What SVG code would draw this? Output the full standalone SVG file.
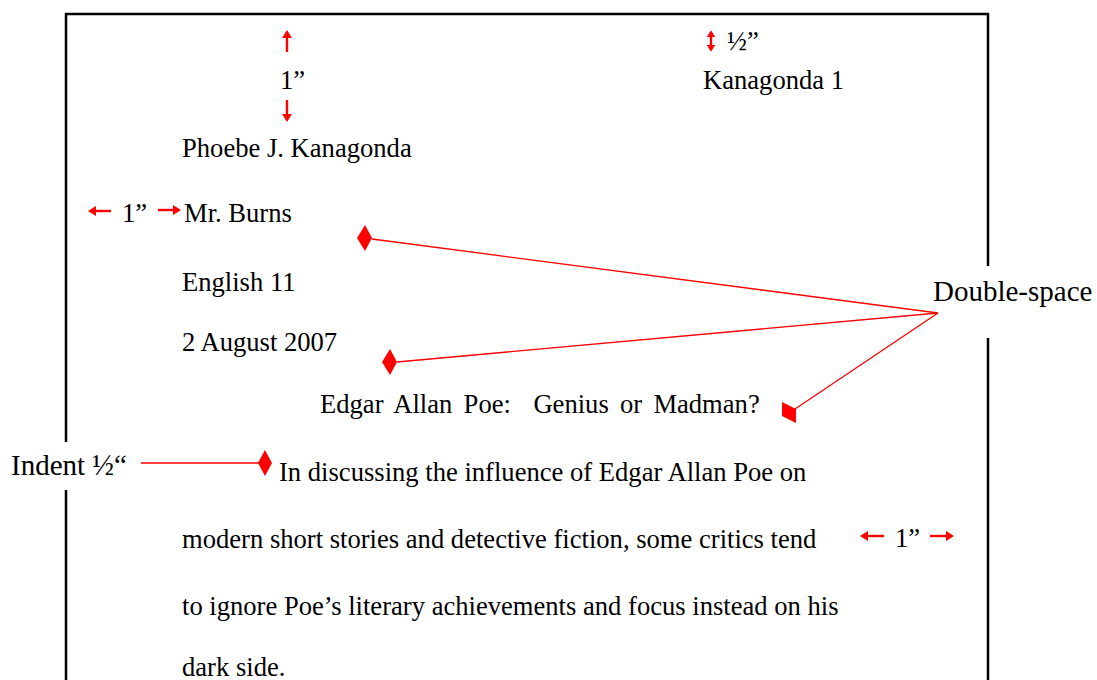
<svg xmlns="http://www.w3.org/2000/svg" width="1097" height="680" viewBox="0 0 1097 680">
<defs>
<style>
.t{font-family:"Liberation Serif","Times New Roman",serif;font-size:26.6px;fill:#000}
.lab{font-family:"Liberation Serif","Times New Roman",serif;font-size:29px;fill:#000}
.border{stroke:#000;stroke-width:2.5;fill:none}
.conn{stroke:#f00;stroke-width:1.3;fill:none}
.arr{stroke:#f00;stroke-width:2.4;fill:none}
.dia{fill:#f00;stroke:none}
</style>
<marker id="ah" viewBox="0 0 8 10" refX="6" refY="5" markerWidth="3.4" markerHeight="4.4" orient="auto-start-reverse" markerUnits="strokeWidth">
<path d="M0,0 L8,5 L0,10 Z" fill="#f00"/>
</marker>
<marker id="ah2" viewBox="0 0 8 10" refX="6" refY="5" markerWidth="3" markerHeight="3.6" orient="auto-start-reverse" markerUnits="strokeWidth">
<path d="M0,0 L8,5 L0,10 Z" fill="#f00"/>
</marker>
</defs>
<rect width="1097" height="680" fill="#fff"/>
<g id="page-border">
<path class="border" d="M66,680 V490 M66,442 V14 H988 V266 M988,338 V680"/>
</g>
<g id="margin-arrows">
<line class="arr" x1="287" y1="52" x2="287" y2="32" marker-end="url(#ah)"/>
<line class="arr" x1="287" y1="100" x2="287" y2="120" marker-end="url(#ah)"/>
<line class="arr" x1="711" y1="32" x2="711" y2="50" marker-start="url(#ah2)" marker-end="url(#ah2)"/>
<line class="arr" x1="111" y1="211" x2="90" y2="211" marker-end="url(#ah)"/>
<line class="arr" x1="158" y1="210" x2="179" y2="210" marker-end="url(#ah)"/>
<line class="arr" x1="884" y1="536" x2="862" y2="536" marker-end="url(#ah)"/>
<line class="arr" x1="930" y1="536" x2="952" y2="536" marker-end="url(#ah)"/>
</g>
<g id="margin-labels">
<text class="t" x="280" y="89">1”</text>
<text class="t" x="727" y="50">½”</text>
<text class="t" x="122" y="222">1”</text>
<text class="t" x="895" y="547">1”</text>
</g>
<g id="header">
<text class="t" x="703" y="89">Kanagonda 1</text>
<text class="t" x="182" y="157">Phoebe J. Kanagonda</text>
<text class="t" x="184" y="222">Mr. Burns</text>
<text class="t" x="182" y="291">English 11</text>
<text class="t" x="182" y="351">2 August 2007</text>
</g>
<g id="title">
<text class="t" x="320" y="413" word-spacing="4.6">Edgar Allan Poe:&#160; Genius or Madman?</text>
</g>
<g id="body">
<text class="t" x="279" y="481">In discussing the influence of Edgar Allan Poe on</text>
<text class="t" x="182" y="548">modern short stories and detective fiction, some critics tend</text>
<text class="t" x="182" y="615">to ignore Poe’s literary achievements and focus instead on his</text>
<text class="t" x="182" y="676">dark side.</text>
</g>
<g id="double-space-label">
<text class="lab" x="933" y="301">Double-space</text>
</g>
<g id="indent-label">
<text class="lab" x="11" y="475">Indent ½“</text>
</g>
<g id="connectors">
<polyline class="conn" points="372,239 938,313 397,362"/>
<line class="conn" x1="938" y1="313" x2="795" y2="409"/>
<line class="conn" x1="141" y1="463" x2="259" y2="463"/>
<polygon class="dia" points="365,225 372,238 365,251 357,238"/>
<polygon class="dia" points="390,349 397,362 390,375 382,362"/>
<polygon class="dia" points="782,402 796,409 796,423 782,416"/>
<polygon class="dia" points="265,450 272,463 265,476 258,463"/>
</g>
</svg>
